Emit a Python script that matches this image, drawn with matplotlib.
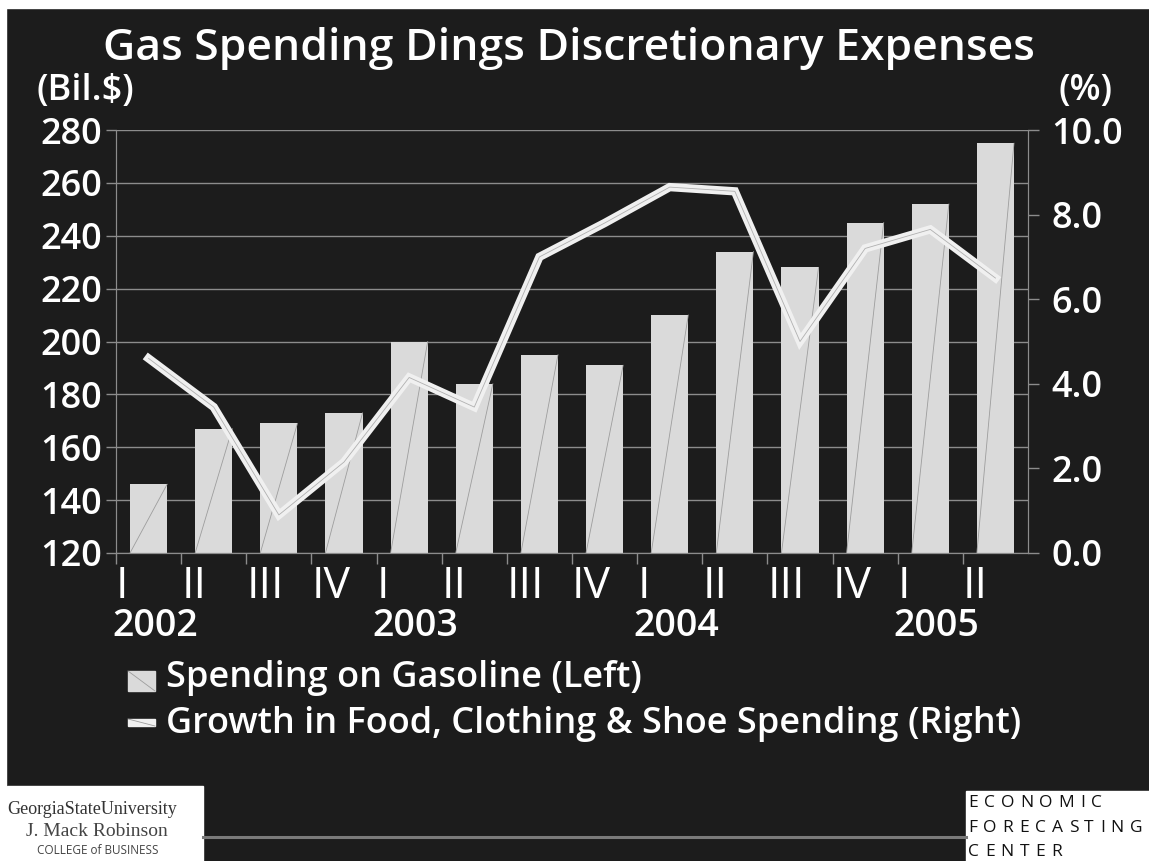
"""
Gas spending vs growth in food/clothing/shoe spending, 2002 I - 2005 II.
Bars on the left axis (Bil.$), line on the right axis (%).
"""

import matplotlib
matplotlib.use('Agg')
import matplotlib.pyplot as plt
from matplotlib.patches import Rectangle
from matplotlib.lines import Line2D
import matplotlib.transforms as mtransforms

# ── DATA ──────────────────────────────────────────────────────────────────────
QUARTERS = ['I', 'II', 'III', 'IV'] * 3 + ['I', 'II']
YEARS = ['2002', '2003', '2004', '2005']
GAS_SPENDING = [146, 167, 169, 173, 200, 184, 195, 191, 210, 234, 228, 245, 252, 275]
FOOD_GROWTH = [4.6, 3.45, 0.9, 2.15, 4.15, 3.45, 7.0, 7.8, 8.65, 8.55, 5.0, 7.2, 7.65, 6.5]
LEFT_TICKS = [120, 140, 160, 180, 200, 220, 240, 260, 280]
RIGHT_TICKS = [0.0, 2.0, 4.0, 6.0, 8.0, 10.0]
LEGEND_LABELS = ['Spending on Gasoline (Left)',
                 'Growth in Food, Clothing & Shoe Spending (Right)']

# ── STYLE ─────────────────────────────────────────────────────────────────────
BG = '#1c1c1c'
BAR = '#dadada'
LINE = '#f0f0f0'
GRID = '#8c8c8c'
FONT = 'Open Sans'
W, H = 1149, 861

plt.rcParams['font.family'] = [FONT, 'DejaVu Sans']


def fx(px):
    return px / W


def fy(px):
    # pixel row measured from the top -> figure fraction
    return 1 - px / H


fig = plt.figure(figsize=(W / 100, H / 100), dpi=100, facecolor=BG)
# white strips at the top and left edge of the slide
fig.patches.append(Rectangle((0, fy(8)), 1, 8 / H, transform=fig.transFigure,
                             color='white', zorder=0))
fig.patches.append(Rectangle((0, 0), fx(6), 1, transform=fig.transFigure,
                             color='white', zorder=0))

ax = fig.add_axes([fx(116), fy(553), fx(1028 - 116), (553 - 130) / H])
ax.set_facecolor(BG)
x = list(range(len(GAS_SPENDING)))

ax.bar(x, [v - 120 for v in GAS_SPENDING], bottom=120, width=0.57,
       color=BAR, zorder=2)
# faint diagonal streak inside every bar
for xi, v in zip(x, GAS_SPENDING):
    ax.plot([xi - 0.285, xi + 0.285], [120, v], color='#9d9d9d', lw=0.6,
            zorder=3)

ax.set_ylim(120, 280)
ax.set_xlim(-0.5, 13.5)
ax.set_yticks(LEFT_TICKS)
ax.set_yticklabels([str(t) for t in LEFT_TICKS])
ax.grid(axis='y', color=GRID, lw=1.0, zorder=1)
ax.tick_params(axis='y', colors=GRID, length=7, width=1.0, pad=3,
               labelcolor='white', labelsize=26)
for lbl in ax.get_yticklabels():
    lbl.set_fontweight('semibold')

bounds = [i - 0.5 for i in range(len(QUARTERS))]
ax.set_xticks(bounds)
ax.set_xticklabels(QUARTERS, ha='left')
ax.tick_params(axis='x', colors=GRID, length=8, width=1.0, pad=0,
               labelcolor='white', labelsize=32)

ax.spines['top'].set_visible(False)
for side in ['left', 'bottom', 'right']:
    ax.spines[side].set_color(GRID)

blend = mtransforms.blended_transform_factory(ax.transData, ax.transAxes)
for i, yr in enumerate(YEARS):
    ax.text(i * 4 - 0.56, -0.128, yr, transform=blend, ha='left', va='top',
            color='white', fontsize=27, fontweight='semibold')

ax2 = ax.twinx()
ax2.set_ylim(0, 10)
ax2.plot(x, FOOD_GROWTH, color=LINE, lw=6, solid_joinstyle='miter', zorder=4)
ax2.plot(x, FOOD_GROWTH, color='#b0b0b0', lw=0.6, zorder=5)
ax2.set_yticks(RIGHT_TICKS)
ax2.set_yticklabels([f'{t:.1f}' for t in RIGHT_TICKS])
ax2.tick_params(axis='y', colors=GRID, length=8, width=1.0, pad=9,
                labelcolor='white', labelsize=26)
for lbl in ax2.get_yticklabels():
    lbl.set_fontweight('semibold')
ax2.spines['top'].set_visible(False)
for side in ['left', 'bottom', 'right']:
    ax2.spines[side].set_color(GRID)

# ── TEXT ──────────────────────────────────────────────────────────────────────
fig.text(fx(103), fy(60), 'Gas Spending Dings Discretionary Expenses',
         ha='left', va='baseline', color='white', fontsize=32, fontweight='semibold')
fig.text(fx(37), fy(100), '(Bil.$)', ha='left', va='baseline',
         color='white', fontsize=26, fontweight='semibold')
fig.text(fx(1113), fy(100), '(%)', ha='right', va='baseline',
         color='white', fontsize=26, fontweight='semibold')

# ── LEGEND (drawn by hand to match the slide spacing) ────────────────────────
keys = [(671, 20, BAR), (719, 7, LINE)]
baselines = [687, 733]
for (top, hgt, col), base, label in zip(keys, baselines, LEGEND_LABELS):
    fig.patches.append(Rectangle((fx(128), fy(top + hgt)), fx(27), hgt / H,
                                 transform=fig.transFigure, color=col, zorder=2))
    fig.lines.append(Line2D([fx(128), fx(155)], [fy(top), fy(top + hgt)],
                            transform=fig.transFigure, color='#9d9d9d', lw=0.6,
                            zorder=3))
    fig.text(fx(166), fy(base), label, ha='left', va='baseline', color='white',
             fontsize=26, fontweight='semibold')

# ── FOOTER LOGOS ──────────────────────────────────────────────────────────────
fig.patches.append(Rectangle((fx(7), 0), fx(196), 75 / H, transform=fig.transFigure,
                             color='white', zorder=1))
fig.patches.append(Rectangle((fx(966), 0), fx(183), 70 / H, transform=fig.transFigure,
                             color='white', zorder=1))
fig.lines.append(Line2D([fx(203), fx(966)], [fy(837)] * 2, transform=fig.transFigure,
                        color='#7a7a7a', lw=2.2))
fig.text(fx(7), fy(809), 'GeorgiaStateUniversity', ha='left', va='center',
         color='#333333', fontsize=13, family='Liberation Serif', zorder=3)
fig.text(fx(97), fy(831), 'J. Mack Robinson', ha='center', va='center',
         color='#444444', fontsize=14, family='Liberation Serif', zorder=3)
fig.text(fx(98), fy(851), 'COLLEGE of BUSINESS', ha='center', va='center',
         color='#444444', fontsize=8.5, family=FONT, zorder=3)

# letter-spaced centre name: measure each glyph, then add fixed tracking
renderer = fig.canvas.get_renderer()
TRACK = 6.0
for j, word in enumerate(['ECONOMIC', 'FORECASTING', 'CENTER']):
    cx = 968.0
    for ch in word:
        t = fig.text(fx(cx), fy(807 + 24.5 * j), ch, ha='left', va='baseline',
                     color='#111111', fontsize=12.5, family=FONT, zorder=3)
        cx += t.get_window_extent(renderer).width + TRACK

fig.savefig('out.png', dpi=100, facecolor=BG)
